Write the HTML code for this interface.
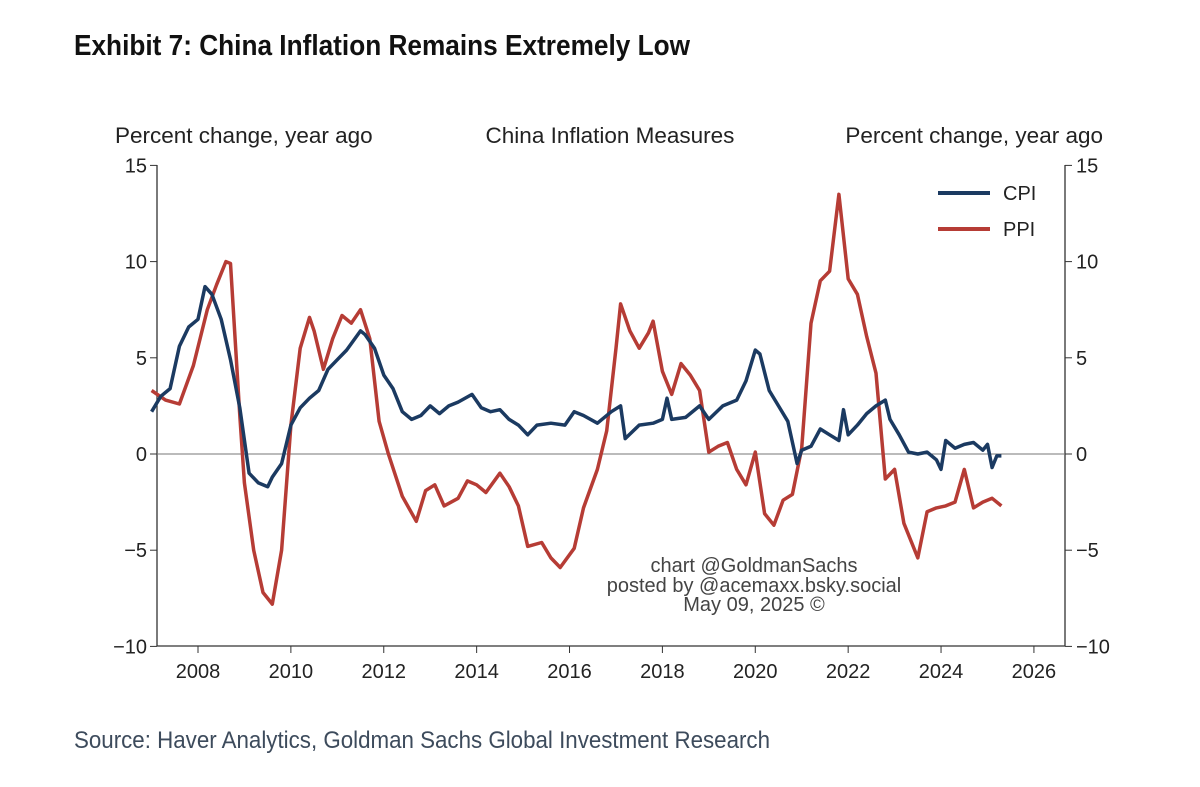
<!DOCTYPE html>
<html><head><meta charset="utf-8"><style>
html,body{margin:0;padding:0;background:#fff;width:1200px;height:787px;overflow:hidden}
svg text{font-family:"Liberation Sans",Arial,sans-serif}
</style></head><body>
<svg id="chart" width="1200" height="787" xmlns="http://www.w3.org/2000/svg">
<text x="74" y="55" font-size="29" font-weight="bold" fill="#111" textLength="616" lengthAdjust="spacingAndGlyphs">Exhibit 7: China Inflation Remains Extremely Low</text>
<text x="115" y="143" font-size="22.5" fill="#222">Percent change, year ago</text>
<text x="610" y="143" font-size="22.5" fill="#222" text-anchor="middle">China Inflation Measures</text>
<text x="1103" y="143" font-size="22.5" fill="#222" text-anchor="end">Percent change, year ago</text>
<g id="axes"></g>
<g id="series"></g>
<g>
<line x1="938" y1="193" x2="990" y2="193" stroke="#1b3a61" stroke-width="4"/>
<text x="1003" y="200" font-size="20" fill="#222">CPI</text>
<line x1="938" y1="229" x2="990" y2="229" stroke="#b63c35" stroke-width="4"/>
<text x="1003" y="236" font-size="20" fill="#222">PPI</text>
</g>
<g font-size="20" fill="#444" text-anchor="middle">
<text x="754" y="572">chart @GoldmanSachs</text>
<text x="754" y="592">posted by @acemaxx.bsky.social</text>
<text x="754" y="611">May 09, 2025 ©</text>
</g>
<text x="74" y="748" font-size="24" fill="#3d4b5c" textLength="696" lengthAdjust="spacingAndGlyphs">Source: Haver Analytics, Goldman Sachs Global Investment Research</text>
</svg>
<script>
const yTicks=[15,10,5,0,-5,-10];
const yTickLabels=["15","10","5","0","\u22125","\u221210"];
const xTicks=[2008,2010,2012,2014,2016,2018,2020,2022,2024,2026];
const cpiT=[2007.0,2007.2,2007.4,2007.6,2007.8,2008.0,2008.15,2008.3,2008.5,2008.7,2008.9,2009.1,2009.3,2009.5,2009.6,2009.8,2010.0,2010.2,2010.4,2010.6,2010.8,2011.0,2011.2,2011.5,2011.6,2011.8,2012.0,2012.2,2012.4,2012.6,2012.8,2013.0,2013.2,2013.4,2013.6,2013.9,2014.1,2014.3,2014.5,2014.7,2014.9,2015.1,2015.3,2015.6,2015.9,2016.1,2016.3,2016.6,2016.9,2017.1,2017.2,2017.5,2017.8,2018.0,2018.1,2018.2,2018.5,2018.8,2019.0,2019.3,2019.6,2019.8,2020.0,2020.1,2020.3,2020.5,2020.7,2020.9,2021.0,2021.2,2021.4,2021.6,2021.8,2021.9,2022.0,2022.2,2022.4,2022.6,2022.8,2022.9,2023.1,2023.3,2023.5,2023.7,2023.9,2024.0,2024.1,2024.3,2024.5,2024.7,2024.9,2025.0,2025.1,2025.2,2025.3];
const cpiV=[2.2,3.0,3.4,5.6,6.6,7.0,8.7,8.3,7.0,4.9,2.4,-1.0,-1.5,-1.7,-1.2,-0.5,1.5,2.4,2.9,3.3,4.4,4.9,5.4,6.4,6.2,5.5,4.1,3.4,2.2,1.8,2.0,2.5,2.1,2.5,2.7,3.1,2.4,2.2,2.3,1.8,1.5,1.0,1.5,1.6,1.5,2.2,2.0,1.6,2.2,2.5,0.8,1.5,1.6,1.8,2.9,1.8,1.9,2.5,1.8,2.5,2.8,3.8,5.4,5.2,3.3,2.5,1.7,-0.5,0.2,0.4,1.3,1.0,0.7,2.3,1.0,1.5,2.1,2.5,2.8,1.8,1.0,0.1,0.0,0.1,-0.3,-0.8,0.7,0.3,0.5,0.6,0.2,0.5,-0.7,-0.1,-0.1];
const ppiT=[2007.0,2007.3,2007.6,2007.9,2008.2,2008.4,2008.6,2008.7,2008.9,2009.0,2009.2,2009.4,2009.6,2009.8,2010.0,2010.2,2010.4,2010.5,2010.7,2010.9,2011.1,2011.3,2011.5,2011.7,2011.9,2012.1,2012.4,2012.7,2012.9,2013.1,2013.3,2013.6,2013.8,2014.0,2014.2,2014.5,2014.7,2014.9,2015.1,2015.4,2015.6,2015.8,2016.1,2016.3,2016.6,2016.8,2017.0,2017.1,2017.3,2017.5,2017.7,2017.8,2018.0,2018.2,2018.4,2018.6,2018.8,2019.0,2019.2,2019.4,2019.6,2019.8,2020.0,2020.2,2020.4,2020.6,2020.8,2021.0,2021.2,2021.4,2021.6,2021.8,2022.0,2022.2,2022.4,2022.6,2022.8,2023.0,2023.2,2023.5,2023.7,2023.9,2024.1,2024.3,2024.5,2024.7,2024.9,2025.1,2025.3];
const ppiV=[3.3,2.8,2.6,4.6,7.5,8.8,10.0,9.9,2.0,-1.5,-5.0,-7.2,-7.8,-5.0,1.5,5.5,7.1,6.4,4.4,6.0,7.2,6.8,7.5,6.0,1.7,0.0,-2.2,-3.5,-1.9,-1.6,-2.7,-2.3,-1.4,-1.6,-2.0,-1.0,-1.7,-2.7,-4.8,-4.6,-5.4,-5.9,-4.9,-2.8,-0.8,1.2,5.5,7.8,6.4,5.5,6.3,6.9,4.3,3.1,4.7,4.1,3.3,0.1,0.4,0.6,-0.8,-1.6,0.1,-3.1,-3.7,-2.4,-2.1,0.3,6.8,9.0,9.5,13.5,9.1,8.3,6.1,4.2,-1.3,-0.8,-3.6,-5.4,-3.0,-2.8,-2.7,-2.5,-0.8,-2.8,-2.5,-2.3,-2.7];

const NS="http://www.w3.org/2000/svg";
const L=157,R=1065,T=165,B=646;
const x=t=>198+(t-2008)*46.44;
const y=v=>454-v*19.24;
function mk(tag,attrs,parent){const e=document.createElementNS(NS,tag);for(const k in attrs)e.setAttribute(k,attrs[k]);parent.appendChild(e);return e;}
const ax=document.getElementById('axes');
let e=mk('line',{x1:L,y1:T,x2:L,y2:B,stroke:'#333','stroke-width':1.3},ax);


e=mk('line',{x1:R,y1:T,x2:R,y2:B,stroke:'#333','stroke-width':1.3},ax);


e=mk('line',{x1:L,y1:B,x2:R,y2:B,stroke:'#333','stroke-width':1.3},ax);


e=mk('line',{x1:L,y1:y(0),x2:R,y2:y(0),stroke:'#777','stroke-width':1},ax);


yTicks.forEach((v,i)=>{
 mk('line',{x1:L-7,y1:y(v),x2:L,y2:y(v),stroke:'#333'},ax);
 mk('line',{x1:R,y1:y(v),x2:R+7,y2:y(v),stroke:'#333'},ax);
 let t=mk('text',{x:L-10,y:y(v)+7,'font-size':20,'text-anchor':'end',fill:'#222'},ax);t.textContent=yTickLabels[i];
 
 
 t=mk('text',{x:R+11,y:y(v)+7,'font-size':20,fill:'#222'},ax);t.textContent=yTickLabels[i];
 
 
});
xTicks.forEach(v=>{
 mk('line',{x1:x(v),y1:B,x2:x(v),y2:B+7,stroke:'#333'},ax);
 const t=mk('text',{x:x(v),y:B+32,'font-size':20,'text-anchor':'middle',fill:'#222'},ax);t.textContent=v;
 
 
});
const sg=document.getElementById('series');
function line(ts,vs,col,name){
 const d=ts.map((t,i)=>(i?'L':'M')+x(t).toFixed(1)+' '+y(vs[i]).toFixed(1)).join(' ');
 const p=mk('path',{d:d,fill:'none',stroke:col,'stroke-width':3.5,'stroke-linejoin':'round'},sg);
 
 
}
line(ppiT,ppiV,'#b63c35','ppi-line');
line(cpiT,cpiV,'#1b3a61','cpi-line');
</script>
</body></html>
